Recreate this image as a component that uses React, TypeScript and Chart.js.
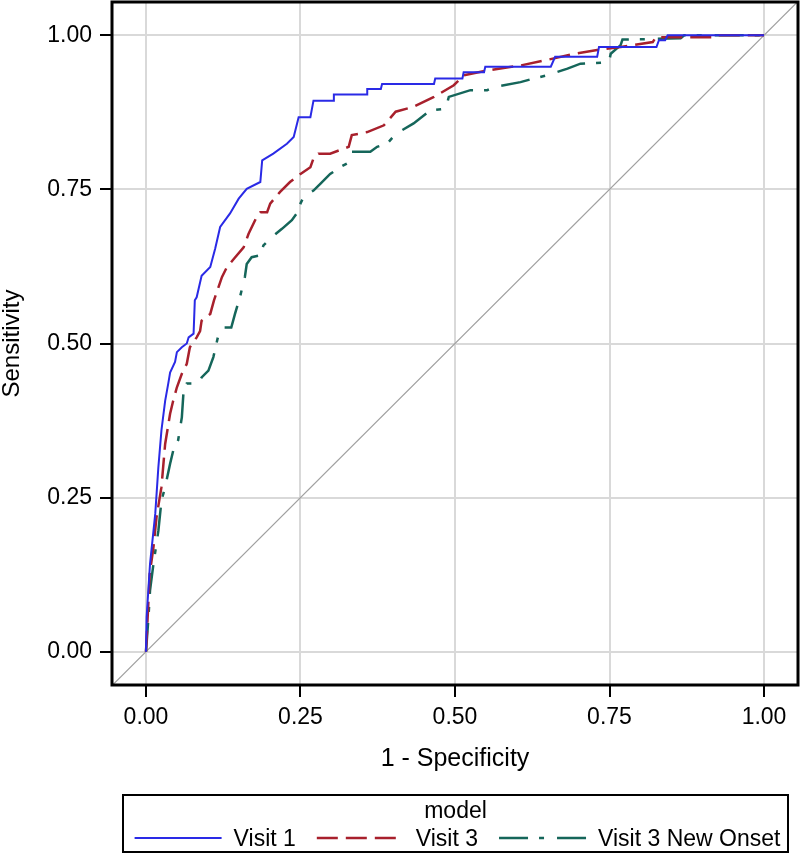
import React, { useEffect, useRef } from "react";
import { Chart, registerables } from "chart.js";

Chart.register(...registerables);

// ---- data ----
const tickValues = [0, 0.25, 0.5, 0.75, 1.0];
const tickLabels = ["0.00", "0.25", "0.50", "0.75", "1.00"];
const xTitle = "1 - Specificity";
const yTitle = "Sensitivity";
const legendTitle = "model";
const seriesLabels = ["Visit 1", "Visit 3", "Visit 3 New Onset"];

const visit1X = [0, 0.001, 0.0065, 0.015, 0.02, 0.025, 0.031, 0.036, 0.039, 0.047, 0.05, 0.058, 0.066, 0.069, 0.077, 0.079, 0.082, 0.09, 0.104, 0.112, 0.12, 0.136, 0.15, 0.163, 0.185, 0.188, 0.206, 0.228, 0.239, 0.247, 0.266, 0.271, 0.304, 0.304, 0.358, 0.358, 0.38, 0.382, 0.466, 0.468, 0.512, 0.514, 0.547, 0.549, 0.655, 0.662, 0.73, 0.733, 0.826, 0.83, 0.84, 0.844, 1.0];
const visit1Y = [0, 0.056, 0.142, 0.224, 0.299, 0.359, 0.407, 0.435, 0.453, 0.47, 0.486, 0.494, 0.5, 0.51, 0.516, 0.57, 0.575, 0.61, 0.624, 0.654, 0.689, 0.711, 0.735, 0.751, 0.762, 0.797, 0.808, 0.824, 0.835, 0.867, 0.867, 0.894, 0.894, 0.904, 0.904, 0.913, 0.913, 0.921, 0.921, 0.93, 0.93, 0.94, 0.94, 0.949, 0.949, 0.965, 0.965, 0.981, 0.981, 0.992, 0.992, 1.0, 1.0];

const visit3X = [0, 0.004, 0.006, 0.012, 0.017, 0.025, 0.031, 0.039, 0.044, 0.05, 0.058, 0.066, 0.071, 0.082, 0.0875, 0.09, 0.104, 0.11, 0.123, 0.131, 0.142, 0.158, 0.166, 0.179, 0.185, 0.196, 0.201, 0.217, 0.233, 0.25, 0.266, 0.271, 0.279, 0.298, 0.328, 0.333, 0.358, 0.385, 0.404, 0.433, 0.466, 0.498, 0.514, 0.552, 0.606, 0.649, 0.693, 0.73, 0.768, 0.82, 0.825, 0.92, 0.925, 1.0];
const visit3Y = [0, 0.083, 0.126, 0.169, 0.218, 0.267, 0.337, 0.386, 0.407, 0.429, 0.451, 0.467, 0.494, 0.51, 0.52, 0.537, 0.548, 0.57, 0.608, 0.624, 0.637, 0.656, 0.678, 0.705, 0.713, 0.713, 0.727, 0.746, 0.762, 0.775, 0.786, 0.8, 0.808, 0.808, 0.819, 0.838, 0.843, 0.854, 0.876, 0.884, 0.9, 0.919, 0.935, 0.943, 0.951, 0.96, 0.97, 0.976, 0.981, 0.989, 0.997, 0.997, 1.0, 1.0];

const onsetX = [0, 0.004, 0.0065, 0.012, 0.02, 0.025, 0.031, 0.039, 0.044, 0.052, 0.058, 0.0605, 0.066, 0.085, 0.09, 0.101, 0.109, 0.117, 0.125, 0.138, 0.144, 0.152, 0.16, 0.163, 0.171, 0.185, 0.19, 0.204, 0.22, 0.236, 0.244, 0.25, 0.255, 0.271, 0.282, 0.298, 0.314, 0.325, 0.333, 0.363, 0.374, 0.39, 0.404, 0.433, 0.46, 0.485, 0.49, 0.525, 0.552, 0.563, 0.606, 0.628, 0.649, 0.682, 0.703, 0.749, 0.752, 0.768, 0.771, 0.865, 0.871, 1.0];
const onsetY = [0, 0.056, 0.099, 0.142, 0.196, 0.245, 0.267, 0.305, 0.326, 0.343, 0.38, 0.418, 0.435, 0.435, 0.445, 0.456, 0.478, 0.513, 0.526, 0.526, 0.548, 0.575, 0.608, 0.629, 0.64, 0.643, 0.659, 0.673, 0.686, 0.7, 0.711, 0.727, 0.738, 0.748, 0.759, 0.775, 0.786, 0.792, 0.811, 0.811, 0.819, 0.824, 0.84, 0.857, 0.878, 0.881, 0.9, 0.911, 0.911, 0.916, 0.924, 0.93, 0.935, 0.946, 0.954, 0.956, 0.97, 0.984, 0.993, 0.995, 1.0, 1.0];

const diagX = [-0.2, 1.2];
const diagY = [-0.2, 1.2];

const xMin = -0.055;
const xMax = 1.055;
const yMin = -0.054;
const yMax = 1.054;

const FONT_FAMILY = "'Liberation Sans', Arial, sans-serif";

const toPoints = (xs: number[], ys: number[]) => xs.map((x, i) => ({ x, y: ys[i] }));

const framePlugin = {
  id: "frame",
  afterDraw(chart: any) {
    const { ctx, chartArea } = chart;
    ctx.save();
    ctx.strokeStyle = "#000";
    ctx.lineWidth = 3;
    ctx.strokeRect(chartArea.left, chartArea.top, chartArea.right - chartArea.left, chartArea.bottom - chartArea.top);
    ctx.restore();
  },
};

const boxLegendPlugin = {
  id: "boxLegend",
  afterDraw(chart: any) {
    const { ctx, chartArea } = chart;
    const items = chart.data.datasets.filter((d: any) => d.inLegend);
    const boxL = chartArea.left + 11;
    const boxR = chartArea.right - 10;
    const boxT = chart.height - 59;
    const boxB = chart.height - 2;
    ctx.save();
    ctx.strokeStyle = "#000";
    ctx.lineWidth = 2;
    ctx.strokeRect(boxL, boxT, boxR - boxL, boxB - boxT);
    ctx.font = `23px ${FONT_FAMILY}`;
    ctx.fillStyle = "#000";
    ctx.textBaseline = "alphabetic";
    ctx.textAlign = "center";
    const cx = (boxL + boxR) / 2;
    ctx.fillText(legendTitle, cx, boxT + 23);

    const lineLen = 87;
    const gapLine = 12;
    const gapEntry = 21;
    const widths = items.map((d: any) => ctx.measureText(d.label).width);
    const total = widths.reduce((a: number, w: number) => a + w + lineLen + gapLine, 0) + gapEntry * (items.length - 1);
    let x = cx - total / 2 + 2;
    const lineY = boxT + 43;
    const textY = boxT + 51;
    ctx.textAlign = "left";
    items.forEach((d: any, i: number) => {
      ctx.save();
      ctx.strokeStyle = d.borderColor;
      ctx.lineWidth = d.borderWidth;
      ctx.setLineDash(d.borderDash || []);
      ctx.beginPath();
      ctx.moveTo(x, lineY);
      ctx.lineTo(x + lineLen, lineY);
      ctx.stroke();
      ctx.restore();
      x += lineLen + gapLine;
      ctx.fillText(d.label, x, textY);
      x += widths[i] + gapEntry;
    });
    ctx.restore();
  },
};

export default function App() {
  const ref = useRef<HTMLCanvasElement | null>(null);

  useEffect(() => {
    if (!ref.current) return;
    const tickFont = { family: FONT_FAMILY, size: 23 };
    const chart = new Chart(ref.current, {
      type: "scatter",
      data: {
        datasets: [
          {
            label: seriesLabels[0],
            inLegend: true,
            data: toPoints(visit1X, visit1Y),
            showLine: true,
            borderColor: "#2a2ae6",
            borderWidth: 2,
            borderDash: [],
            pointRadius: 0,
            tension: 0,
            order: 1,
          } as any,
          {
            label: seriesLabels[1],
            inLegend: true,
            data: toPoints(visit3X, visit3Y),
            showLine: true,
            borderColor: "#a8202c",
            borderWidth: 2.5,
            borderDash: [21, 8],
            pointRadius: 0,
            tension: 0,
            order: 2,
          } as any,
          {
            label: seriesLabels[2],
            inLegend: true,
            data: toPoints(onsetX, onsetY),
            showLine: true,
            borderColor: "#15665a",
            borderWidth: 2.5,
            borderDash: [29, 11, 5, 13],
            pointRadius: 0,
            tension: 0,
            order: 3,
          } as any,
          {
            label: "diagonal",
            inLegend: false,
            data: toPoints(diagX, diagY),
            showLine: true,
            borderColor: "#a0a0a0",
            borderWidth: 1.2,
            pointRadius: 0,
            tension: 0,
            order: 4,
          } as any,
        ],
      },
      options: {
        animation: false,
        responsive: false,
        devicePixelRatio: 1,
        events: [],
        layout: { padding: { top: 2, right: 2, bottom: 80, left: 0 } },
        plugins: {
          legend: { display: false },
          tooltip: { enabled: false },
        },
        scales: {
          x: {
            type: "linear",
            min: xMin,
            max: xMax,
            afterBuildTicks: (scale: any) => {
              scale.ticks = tickValues.map((v) => ({ value: v }));
            },
            afterFit: (scale: any) => {
              scale.height = 89;
              scale.paddingLeft = 0;
              scale.paddingRight = 0;
              scale.paddingTop = 0;
              scale.paddingBottom = 0;
            },
            grid: {
              color: "#d9d9d9",
              lineWidth: 2,
              drawTicks: true,
              tickLength: 12,
              tickColor: "#000",
              tickWidth: 2,
            },
            border: { display: false },
            ticks: {
              autoSkip: false,
              maxRotation: 0,
              padding: 7,
              color: "#000",
              font: tickFont,
              callback: (_v: any, i: number) => tickLabels[i],
            },
            title: {
              display: true,
              text: xTitle,
              color: "#000",
              font: { family: FONT_FAMILY, size: 25 },
              padding: 0,
            },
          },
          y: {
            type: "linear",
            min: yMin,
            max: yMax,
            afterBuildTicks: (scale: any) => {
              scale.ticks = tickValues.map((v) => ({ value: v }));
            },
            afterFit: (scale: any) => {
              scale.width = 112;
              scale.paddingLeft = 0;
              scale.paddingRight = 0;
              scale.paddingTop = 0;
              scale.paddingBottom = 0;
            },
            grid: {
              color: "#d9d9d9",
              lineWidth: 2,
              drawTicks: true,
              tickLength: 12,
              tickColor: "#000",
              tickWidth: 2,
            },
            border: { display: false },
            ticks: {
              autoSkip: false,
              padding: 8,
              color: "#000",
              font: tickFont,
              callback: (_v: any, i: number) => tickLabels[i],
            },
            title: {
              display: true,
              text: yTitle,
              color: "#000",
              font: { family: FONT_FAMILY, size: 24, lineHeight: 1 },
              padding: 0,
            },
          },
        },
      } as any,
      plugins: [framePlugin, boxLegendPlugin],
    });
    return () => chart.destroy();
  }, []);

  return (
    <div style={{ position: "absolute", left: 0, top: 0, width: 800, height: 854, background: "#fff" }}>
      <canvas ref={ref} width={800} height={854} style={{ display: "block", width: 800, height: 854 }} />
    </div>
  );
}
